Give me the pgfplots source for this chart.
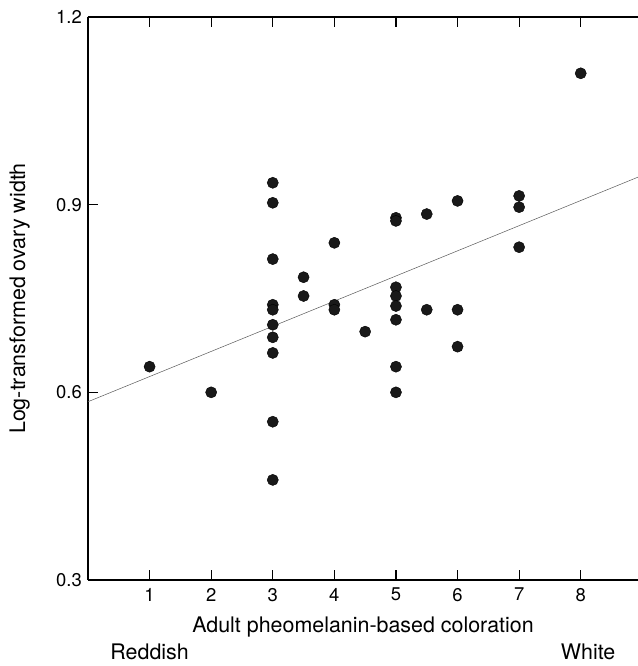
\documentclass[border=0pt]{standalone}
\usepackage{pgfplots}
\pgfplotsset{compat=1.18}
\usepackage{fontspec}
\setmainfont{TeX Gyre Heros}
\begin{document}
\begin{tikzpicture}
\begin{axis}[
  name=ax,
  scale only axis,
  width=550bp, height=563bp,
  xmin=0, xmax=8.93, ymin=0.3, ymax=1.2,
  axis x line*=box, axis y line*=left,
  xtick={1,2,3,4,5,6,7,8},
  ytick={0.3,0.6,0.9,1.2},
  yticklabels={0.3,0.6,0.9,1.2},
  tick align=inside,
  major tick length=10bp,
  axis line style={line width=1.3pt},
  every tick/.style={black, line width=1.2pt},
  /pgf/number format/assume math mode=true,
  ticklabel style={font=\fontsize{18.5}{20}\selectfont, inner sep=0pt},
  xticklabel style={anchor=north, yshift=-8bp},
  yticklabel style={anchor=east, xshift=-6bp},
  xlabel={Adult pheomelanin-based coloration},
  ylabel={Log-transformed ovary width},
  label style={font=\fontsize{21.5}{24}\selectfont, inner sep=0pt},
  xlabel style={at={(axis description cs:0.5,-0.0924)}, anchor=base},
  ylabel style={at={(axis description cs:-0.1145,0.5)}, anchor=base, rotate=0},
  clip=false,
]
\addplot[gray!70!black, line width=0.5pt] coordinates {(0,0.585) (8.93,0.944)};
\addplot[only marks, mark=*, mark size=5.6pt, black, mark options={fill=black!90}] coordinates {
(1,0.641) (2,0.600)
(3,0.935) (3,0.903) (3,0.813) (3,0.740) (3,0.732) (3,0.708) (3,0.688) (3,0.663) (3,0.553) (3,0.460)
(3.5,0.784) (3.5,0.754)
(4,0.839) (4,0.740) (4,0.732)
(4.5,0.697)
(5,0.879) (5,0.874) (5,0.768) (5,0.754) (5,0.738) (5,0.716) (5,0.641) (5,0.600)
(5.5,0.885) (5.5,0.732)
(6,0.906) (6,0.732) (6,0.673)
(7,0.914) (7,0.896) (7,0.832)
(8,1.110)
};
\node[font=\fontsize{21.5}{24}\selectfont, anchor=base, inner sep=0pt] at ([yshift=-79bp]axis cs:1,0.3) {Reddish};
\node[font=\fontsize{21.5}{24}\selectfont, anchor=base, inner sep=0pt] at ([yshift=-79bp]axis cs:8.12,0.3) {White};
\end{axis}
\pgfresetboundingbox
\path[use as bounding box] ([shift={(-88bp,-86bp)}]ax.south west) rectangle ([shift={(0bp,17bp)}]ax.north east);
\end{tikzpicture}
\end{document}
